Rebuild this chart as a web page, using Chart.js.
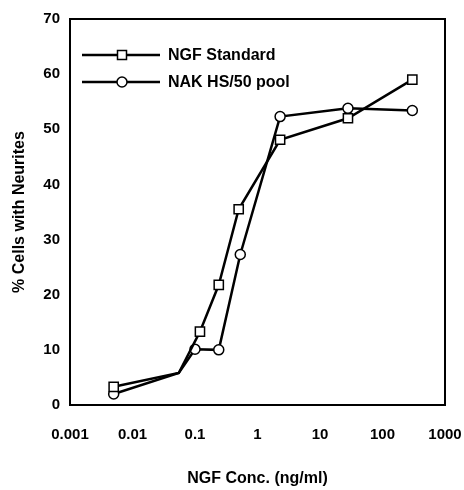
<!DOCTYPE html>
<html>
<head>
<meta charset="utf-8">
<script src="https://cdn.jsdelivr.net/npm/chart.js@4"></script>
<style>
  html, body { margin: 0; padding: 0; background: #fff; }
  #wrap { width: 464px; height: 490px; }
</style>
</head>
<body>
<div id="wrap"><canvas id="neuriteChart" width="464" height="490"></canvas></div>
<script>
// NGF concentration (ng/ml) and % cells with neurites
const ngfConc = [0.005, 0.055, 0.12, 0.24, 0.5, 2.3, 28, 300];
const ngfStandard = [3.3, 5.8, 13.3, 21.8, 35.5, 48.1, 52, 59];
const nakConc = [0.005, 0.055, 0.1, 0.24, 0.53, 2.3, 28, 300];
const nakPool = [2, 5.8, 10.1, 10, 27.3, 52.3, 53.8, 53.4];
const seriesNames = ["NGF Standard", "NAK HS/50 pool"];
const xTicks = [0.001, 0.01, 0.1, 1, 10, 100, 1000];
const yTicks = [0, 10, 20, 30, 40, 50, 60, 70];

const toPoints = (xs, ys) => xs.map((x, i) => ({ x: x, y: ys[i] }));
// the shared kink point has no marker in the original
const radii = (n, r) => Array.from({ length: n }, (_, i) => (i === 1 ? 0 : r));

const tickFont = { family: "Liberation Sans", size: 15, weight: "bold" };
const titleFont = { family: "Liberation Sans", size: 16, weight: "bold" };

// frame around the plot plus the legend drawn inside it
const framePlugin = {
  id: "frame",
  afterDraw(chart) {
    const { ctx, chartArea: a } = chart;
    ctx.save();
    ctx.strokeStyle = "#000";
    ctx.lineWidth = 2;
    ctx.strokeRect(a.left, a.top, a.right - a.left, a.bottom - a.top);

    const rows = [
      { label: seriesNames[0], style: "rect", y: a.top + 36 },
      { label: seriesNames[1], style: "circle", y: a.top + 63 },
    ];
    rows.forEach((r) => {
      ctx.strokeStyle = "#000";
      ctx.lineWidth = 2.5;
      ctx.beginPath();
      ctx.moveTo(a.left + 12, r.y);
      ctx.lineTo(a.left + 90, r.y);
      ctx.stroke();
      ctx.fillStyle = "#fff";
      ctx.lineWidth = 1.5;
      const cx = a.left + 52;
      ctx.beginPath();
      if (r.style === "rect") {
        ctx.rect(cx - 4.5, r.y - 4.5, 9, 9);
      } else {
        ctx.arc(cx, r.y, 5, 0, Math.PI * 2);
      }
      ctx.fill();
      ctx.stroke();
      ctx.fillStyle = "#000";
      ctx.font = "bold 16px 'Liberation Sans'";
      ctx.textBaseline = "middle";
      ctx.textAlign = "left";
      ctx.fillText(r.label, a.left + 98, r.y + 1);
    });
    ctx.restore();
  },
};

new Chart(document.getElementById("neuriteChart").getContext("2d"), {
  type: "line",
  data: {
    datasets: [
      {
        label: seriesNames[0],
        data: toPoints(ngfConc, ngfStandard),
        borderColor: "#000",
        borderWidth: 2.5,
        backgroundColor: "#fff",
        pointStyle: "rect",
        pointRadius: radii(ngfConc.length, 6.5),
        pointBorderWidth: 1.5,
        pointBackgroundColor: "#fff",
        pointBorderColor: "#000",
        tension: 0,
      },
      {
        label: seriesNames[1],
        data: toPoints(nakConc, nakPool),
        borderColor: "#000",
        borderWidth: 2.5,
        backgroundColor: "#fff",
        pointStyle: "circle",
        pointRadius: radii(nakConc.length, 5),
        pointBorderWidth: 1.5,
        pointBackgroundColor: "#fff",
        pointBorderColor: "#000",
        tension: 0,
      },
    ],
  },
  options: {
    responsive: false,
    animation: false,
    layout: { padding: { top: 19, right: 19, left: 0, bottom: 0 } },
    plugins: {
      legend: { display: false },
      tooltip: { enabled: false },
    },
    scales: {
      x: {
        type: "logarithmic",
        min: 0.001,
        max: 1000,
        afterBuildTicks: (scale) => {
          scale.ticks = xTicks.map((v) => ({ value: v, major: true }));
        },
        afterFit: (scale) => {
          scale.height = 85;
          scale.paddingLeft = 0;
          scale.paddingRight = 0;
        },
        ticks: {
          color: "#000",
          font: tickFont,
          padding: 14,
          maxRotation: 0,
          autoSkip: false,
          callback: (v) => String(v),
        },
        grid: { display: false, drawTicks: true, tickLength: 7, tickColor: "#000" },
        border: { display: true, color: "#000", width: 2 },
        title: {
          display: true,
          text: "NGF Conc. (ng/ml)",
          color: "#000",
          font: titleFont,
          padding: { top: 4, bottom: 2 },
        },
      },
      y: {
        min: 0,
        max: 70,
        afterBuildTicks: (scale) => {
          scale.ticks = yTicks.map((v) => ({ value: v }));
        },
        afterFit: (scale) => {
          scale.width = 70;
        },
        ticks: { color: "#000", font: tickFont, padding: 4 },
        grid: { display: false, drawTicks: true, tickLength: 6, tickColor: "#000" },
        border: { display: true, color: "#000", width: 2 },
        title: {
          display: true,
          text: "% Cells with Neurites",
          color: "#000",
          font: titleFont,
          padding: { top: 10, bottom: 4 },
        },
      },
    },
  },
  plugins: [framePlugin],
});
</script>
</body>
</html>
